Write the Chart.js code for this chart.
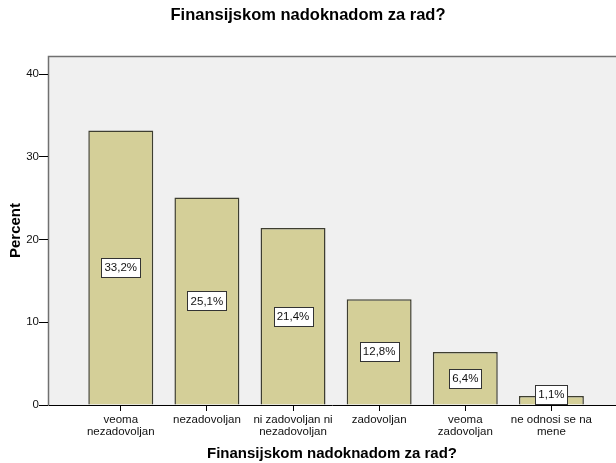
<!DOCTYPE html>
<html><head><meta charset="utf-8">
<script src="https://cdn.jsdelivr.net/npm/chart.js@4/dist/chart.umd.min.js"></script>
<style>html,body{margin:0;padding:0;background:#fff}#wrap{width:616px;height:463px;position:relative}</style>
</head><body><div id="wrap"><canvas id="c" width="616" height="463"></canvas></div>
<script>
const chartTitle = "Finansijskom nadoknadom za rad?";
const xTitle = "Finansijskom nadoknadom za rad?";
const yTitle = "Percent";
const categories = [["veoma","nezadovoljan"],["nezadovoljan"],["ni zadovoljan ni","nezadovoljan"],["zadovoljan"],["veoma","zadovoljan"],["ne odnosi se na","mene"]];
const percents = [33.2, 25.1, 21.4, 12.8, 6.4, 1.1];
const valueLabels = ["33,2%","25,1%","21,4%","12,8%","6,4%","1,1%"];
const yTicks = [0, 10, 20, 30, 40];

const FONT = "'Liberation Sans', Arial, sans-serif";

const bgPlugin = {
  id: 'bg',
  beforeDraw(chart) {
    const {ctx, chartArea: a} = chart;
    ctx.save();
    ctx.fillStyle = '#f0f0f0';
    ctx.fillRect(a.left, a.top, a.right - a.left, a.bottom - a.top);
    ctx.strokeStyle = '#707070';
    ctx.lineWidth = 1.5;
    ctx.beginPath();
    ctx.moveTo(a.left + 0.5, a.bottom);
    ctx.lineTo(a.left + 0.5, a.top + 0.5);
    ctx.lineTo(a.right, a.top + 0.5);
    ctx.stroke();
    ctx.restore();
  },
  afterDraw(chart) {
    const {ctx} = chart;
    ctx.save();
    ctx.fillStyle = '#000';
    ctx.font = "bold 16.5px " + FONT;
    ctx.textAlign = 'center';
    ctx.textBaseline = 'middle';
    ctx.fillText(chartTitle, 308, 15);
    ctx.restore();
  }
};

const labelPlugin = {
  id: 'vlabels',
  afterDatasetsDraw(chart) {
    const {ctx} = chart;
    const meta = chart.getDatasetMeta(0);
    ctx.save();
    ctx.font = "11.5px " + FONT;
    ctx.textAlign = 'center';
    ctx.textBaseline = 'middle';
    meta.data.forEach((bar, i) => {
      const txt = valueLabels[i];
      const w = Math.round(ctx.measureText(txt).width) + 6;
      const h = 19;
      let cy = (bar.y + bar.base) / 2;
      cy = Math.min(cy, bar.base - 10);
      const x0 = Math.round(bar.x - w / 2) + 0.5;
      const y0 = Math.round(cy - h / 2) + 0.5;
      ctx.fillStyle = '#fff';
      ctx.fillRect(x0, y0, w, h);
      ctx.strokeStyle = '#333';
      ctx.lineWidth = 1;
      ctx.strokeRect(x0, y0, w, h);
      ctx.fillStyle = '#111';
      ctx.fillText(txt, bar.x, cy + 0.5);
    });
    ctx.restore();
  }
};

new Chart(document.getElementById('c'), {
  type: 'bar',
  data: {
    datasets: [{
      data: percents.map((v, i) => ({x: i, y: v})),
      backgroundColor: '#d4cf98',
      borderColor: '#3e3e30',
      borderWidth: 1.5,
      barPercentage: 0.754,
      categoryPercentage: 1
    }]
  },
  options: {
    responsive: false,
    animation: false,
    devicePixelRatio: 1,
    layout: {padding: {top: 56, left: 0, right: 0, bottom: 0}},
    plugins: {legend: {display: false}, tooltip: {enabled: false}, title: {display: false}},
    scales: {
      x: {
        type: 'linear',
        offset: false,
        min: -0.845,
        max: 5.75,
        afterBuildTicks(scale) { scale.ticks = categories.map((c, i) => ({value: i})); },
        afterFit(scale) { scale.height = 58; },
        grid: {drawOnChartArea: false, drawTicks: true, tickLength: 6, color: '#000', lineWidth: 1, offset: false},
        border: {display: true, color: '#000', width: 1},
        ticks: {
          autoSkip: false, maxRotation: 0, minRotation: 0, padding: 3,
          color: '#111', font: {family: FONT, size: 11.5, lineHeight: 1.05},
          callback: (v) => categories[v] || ''
        },
        title: {display: true, text: xTitle, color: '#000', font: {family: FONT, size: 15, weight: 'bold'}, padding: {top: 2, bottom: 0}}
      },
      y: {
        min: 0,
        max: 42.2,
        afterBuildTicks(scale) { scale.ticks = yTicks.map(v => ({value: v})); },
        afterFit(scale) { scale.width = 48; },
        grid: {drawOnChartArea: false, drawTicks: true, tickLength: 9, color: '#000'},
        border: {display: true, color: '#707070', width: 1},
        ticks: {padding: 0, color: '#111', font: {family: FONT, size: 11.5}},
        title: {display: true, text: yTitle, color: '#000', font: {family: FONT, size: 15, weight: 'bold'}, padding: {top: 7, bottom: 0}}
      }
    }
  },
  plugins: [bgPlugin, labelPlugin]
});
</script></body></html>
